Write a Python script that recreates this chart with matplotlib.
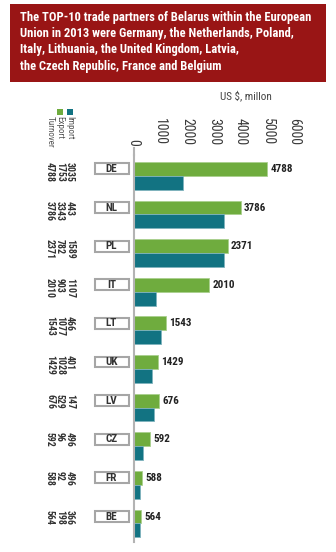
import matplotlib
matplotlib.use("Agg")
import matplotlib.pyplot as plt
import matplotlib.transforms as mtransforms
from matplotlib import font_manager as fm
from matplotlib.patches import Rectangle
import numpy as np

W, H = 336, 552

countries = ["DE", "NL", "PL", "IT", "LT", "UK", "LV", "CZ", "FR", "BE"]
imports = [3035, 443, 1589, 1107, 466, 401, 147, 496, 496, 366]
exports = [1753, 3343, 782, 903, 1077, 1028, 529, 96, 92, 198]
turnover = [4788, 3786, 2371, 2010, 1543, 1429, 676, 592, 588, 564]
# bar lengths as drawn in the picture (they do not follow the printed numbers)
green_bar = [4980, 4000, 3510, 2820, 1210, 900, 960, 630, 310, 280]
teal_bar = [1840, 3380, 3380, 830, 1020, 680, 780, 340, 240, 240]
xticks = [0, 1000, 2000, 3000, 4000, 5000, 6000]

GREEN = "#6fac3e"
TEAL = "#127382"
RED = "#991515"
DARK = "#333333"


def _w(w):
    if isinstance(w, str):
        return fm.weight_dict.get(w, 400)
    return int(w)


def pick_font():
    cands = {}
    for e in fm.fontManager.ttflist:
        st = str(e.stretch)
        if "Narrow" in e.name or "Condensed" in e.name:
            key = (e.name, None)
        elif "condensed" in st and "extra" not in st and "ultra" not in st:
            key = (e.name, st)
        else:
            continue
        if "italic" in str(e.style) or "oblique" in str(e.style):
            continue
        cands.setdefault(key, set()).add(_w(e.weight))
    pref = ["Liberation Sans Narrow", "Roboto Condensed", "Noto Sans", "Open Sans",
            "Roboto", "Liberation Sans", "DejaVu Sans"]

    def rank(key):
        ws = cands[key]
        both = any(w >= 700 for w in ws) and any(380 <= w <= 500 for w in ws)
        bold = any(w >= 600 for w in ws)
        p = pref.index(key[0]) if key[0] in pref else len(pref)
        return (not both, not bold, p)

    if cands:
        key = sorted(cands, key=rank)[0]
        if any(w >= 600 for w in cands[key]):
            d = {"family": [key[0], "DejaVu Sans"]}
            if key[1]:
                d["fontstretch"] = key[1]
            return d, 1.0
    return {"family": ["Liberation Sans", "DejaVu Sans"]}, 0.86


FONT, SC = pick_font()


def fx(x):
    return x / W


def fy(y):
    return 1 - y / H


fig = plt.figure(figsize=(W / 100, H / 100), dpi=100)
fig.patch.set_facecolor("white")

# title box
fig.patches.append(Rectangle((fx(10), fy(82)), fx(316), 78 / H, transform=fig.transFigure,
                             facecolor=RED, edgecolor="none"))
title_lines = ["The TOP-10 trade partners of Belarus within the European",
               "Union in 2013 were Germany, the Netherlands, Poland,",
               "Italy, Lithuania, the United Kingdom, Latvia,",
               "the Czech Republic, France and Belgium"]
for k, line in enumerate(title_lines):
    fig.text(fx(20), fy(17 + 16.5 * k), line, color="white", fontsize=9 * SC, fontweight="bold",
             va="center", ha="left", **FONT)

fig.text(fx(246), fy(96), "US $, millon", color="#444444", fontsize=8 * SC,
         ha="center", va="center", **FONT)

# main axes: left edge at axis line
x0, x1 = 133.5, 133.5 + 6600 * 0.0268
ax = fig.add_axes([fx(x0), fy(542), fx(x1 - x0), (542 - 155) / H])
y = np.arange(len(countries))
bh = 0.36
ax.barh(y, green_bar, height=bh, color=GREEN, edgecolor="#a9d08e", linewidth=0.6)
ax.barh(y + bh, teal_bar, height=bh, color=TEAL, edgecolor="#7fb3bd", linewidth=0.6)
ax.set_xlim(0, 6600)
ax.set_ylim(len(countries) - 1 + 0.66, -0.36)

for i, v in enumerate(turnover):
    ax.annotate(str(v), (green_bar[i], y[i]), xytext=(2.5, 0), textcoords="offset points",
                va="center", ha="left", fontsize=8 * SC, fontweight="bold", color="#222222",
                **FONT)

for s in ["top", "right", "bottom"]:
    ax.spines[s].set_visible(False)
ax.spines["left"].set_color("#b3b3b3")
ax.spines["left"].set_linewidth(1.5)
ax.set_yticks([])
ax.xaxis.tick_top()
ax.set_xticks(xticks)
ax.set_xticklabels([str(t) for t in xticks], fontsize=10 * SC, color="#3a3a3a", **FONT)
ax.tick_params(axis="x", length=0, pad=7, labelrotation=-90)
# small stub above the 0 line
fig.lines.append(plt.Line2D([fx(x0), fx(x0)], [fy(155), fy(148)], transform=fig.transFigure,
                            color="#b3b3b3", lw=1.5))

# left side: country boxes and the three value columns
tr = mtransforms.blended_transform_factory(fig.transFigure, ax.transData)
for i, c in enumerate(countries):
    ax.add_patch(Rectangle((fx(94.5), i - 0.14), fx(34.5), 0.28, transform=tr, clip_on=False,
                           facecolor="white", edgecolor="#a6a6a6", linewidth=1.5))
    ax.text(fx(111.5), i, c, transform=tr, ha="center", va="center", fontsize=8 * SC,
            fontweight="bold", color=DARK, clip_on=False, **FONT)
    for xp, v in [(50, turnover[i]), (60, exports[i]), (70, imports[i])]:
        ax.text(fx(xp), i - 0.18, str(v), transform=tr, rotation=-90, ha="center", va="top",
                fontsize=7 * SC, fontweight="bold", color=DARK, clip_on=False, **FONT)

# legend
fig.patches.append(Rectangle((fx(57), fy(115)), fx(6), 6 / H, transform=fig.transFigure,
                             facecolor=GREEN, edgecolor="none"))
fig.patches.append(Rectangle((fx(67), fy(115)), fx(6), 6 / H, transform=fig.transFigure,
                             facecolor=TEAL, edgecolor="none"))
for xp, t in [(50, "Turnover"), (60, "Export"), (70, "Import")]:
    fig.text(fx(xp), fy(116), t, rotation=-90, ha="center", va="top", fontsize=6.5 * SC,
             color="#555555", **FONT)

fig.savefig("out.png", dpi=100)
